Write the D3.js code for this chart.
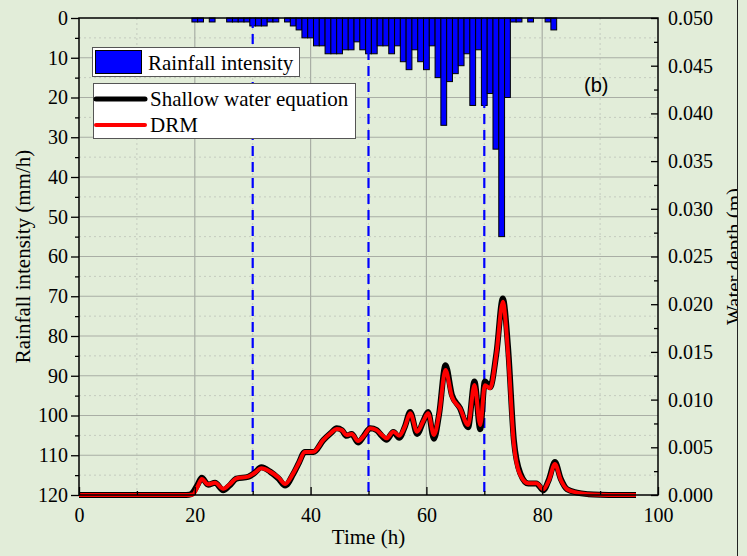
<!DOCTYPE html>
<html>
<head>
<meta charset="utf-8">
<script src="https://cdn.jsdelivr.net/npm/d3@7"></script>
<style>
  html, body { margin: 0; padding: 0; background: #e2edd9; }
  svg { display: block; }
</style>
</head>
<body>
<svg id="chart" width="747" height="556"></svg>
<script>
// Hourly rainfall intensity (mm/h), bars centred on the hour
const rainHour = [20, 21, 23, 26, 27, 28, 29, 30, 31, 32, 33, 34, 36, 37, 38, 39, 40, 41, 42, 43, 44, 45, 46, 47, 48, 49, 50, 51, 52, 53, 54, 55, 56, 57, 58, 59, 60, 61, 62, 63, 64, 65, 66, 67, 68, 69, 70, 71, 72, 73, 74, 75, 76, 78, 81, 82];
const rainIntensity = [1, 1, 1, 1, 1, 1, 1, 2, 2, 2, 1, 1, 1, 2, 3, 5, 5, 7, 7, 9, 9, 9, 8, 8, 6, 8, 9, 9, 7, 7, 9, 7, 11, 13, 8, 11, 13, 7, 15, 27, 16, 14, 12, 9, 22, 8, 22, 19, 33, 55, 20, 1, 1, 1, 1, 3];

// Simulated water depth (m)
const timeH = [0, 18, 19, 19.7, 20.5, 21.2, 22.3, 23.5, 24.9, 26, 27.2, 29.2, 30.3, 31.5, 33, 34.5, 35.6, 37, 38, 39, 40.5, 42.2, 43.5, 44.5, 45.4, 46.2, 47.1, 48.2, 49.2, 50.3, 51.4, 52.3, 53.1, 54.3, 55.3, 56.3, 57.2, 58.4, 59.5, 60.3, 61.3, 62.2, 63.3, 64.4, 65.8, 67.2, 68.3, 69.3, 70.1, 71, 72.1, 73.2, 74.1, 75.1, 76.2, 77.6, 79, 80.2, 81.2, 82.2, 83.2, 84.3, 86, 88, 90, 93, 96.2];
const sweDepth = [0, 0, 0.00002, 0.0003, 0.0011, 0.0018, 0.00108, 0.00128, 0.0005, 0.001, 0.00172, 0.0019, 0.0023, 0.0029, 0.00245, 0.0017, 0.001, 0.0022, 0.0034, 0.0045, 0.0045, 0.00575, 0.0065, 0.007, 0.0068, 0.0062, 0.0064, 0.0055, 0.0062, 0.007, 0.0068, 0.0062, 0.0058, 0.0066, 0.006, 0.0072, 0.0087, 0.0064, 0.0078, 0.0087, 0.0059, 0.0085, 0.0136, 0.0105, 0.0091, 0.0071, 0.0119, 0.0069, 0.0119, 0.0113, 0.0149, 0.0206, 0.0155, 0.0058, 0.0023, 0.0012, 0.0012, 0.0005, 0.0017, 0.00345, 0.0017, 0.0006, 0.00025, 0.00008, 0.00002, 0, 0];
const drmDepth = [0, 0, 0, 0.00005, 0.0009, 0.00168, 0.00112, 0.00129, 0.00065, 0.0011, 0.00175, 0.00192, 0.0023, 0.0028, 0.00245, 0.0018, 0.00115, 0.00227, 0.0034, 0.0045, 0.00454, 0.00577, 0.0065, 0.00692, 0.0068, 0.00629, 0.0064, 0.00566, 0.0062, 0.00699, 0.0068, 0.0063, 0.00594, 0.00664, 0.00622, 0.0072, 0.00856, 0.00664, 0.0078, 0.00856, 0.00629, 0.0085, 0.0131, 0.0103, 0.00909, 0.00734, 0.01153, 0.00734, 0.0115, 0.0112, 0.01485, 0.02026, 0.0149, 0.0054, 0.0021, 0.00122, 0.00122, 0.0006, 0.0016, 0.00325, 0.0016, 0.0006, 0.00025, 0.00008, 0.00002, 0, 0];

// Rain phases marked by dashed verticals
const markerHours = [30, 50, 70];

// Axis ticks
const timeTicks = [0, 20, 40, 60, 80, 100];
const timeMinor = [10, 30, 50, 70, 90];
const rainTicks = [0, 10, 20, 30, 40, 50, 60, 70, 80, 90, 100, 110, 120];
const rainMinor = [5, 15, 25, 35, 45, 55, 65, 75, 85, 95, 105, 115];
const depthTicks = [0, 0.005, 0.01, 0.015, 0.02, 0.025, 0.03, 0.035, 0.04, 0.045, 0.05];
const depthMinor = [0.0025, 0.0075, 0.0125, 0.0175, 0.0225, 0.0275, 0.0325, 0.0375, 0.0425, 0.0475];

const seriesNames = ["Rainfall intensity", "Shallow water equation", "DRM"];

const serif = "'Liberation Serif', 'Times New Roman', serif";
const L = 79, R = 658, T = 18, B = 495;

const svg = d3.select("#chart");
const x = d3.scaleLinear().domain([0, 100]).range([L, R]);
const yRain = d3.scaleLinear().domain([0, 120]).range([T, B]);
const yDepth = d3.scaleLinear().domain([0, 0.05]).range([B, T]);

// grid
const grid = svg.append("g");
grid.selectAll("line.hmin").data(rainMinor).join("line")
  .attr("x1", L).attr("x2", R).attr("y1", d => yRain(d)).attr("y2", d => yRain(d))
  .attr("stroke", "#c4cbbf").attr("stroke-width", 1).attr("stroke-dasharray", "2,3");
grid.selectAll("line.vmin").data(timeMinor).join("line")
  .attr("y1", T).attr("y2", B).attr("x1", d => x(d)).attr("x2", d => x(d))
  .attr("stroke", "#c4cbbf").attr("stroke-width", 1).attr("stroke-dasharray", "2,3");
grid.append("g").selectAll("line").data(rainTicks.slice(1, -1)).join("line")
  .attr("x1", L).attr("x2", R).attr("y1", d => yRain(d)).attr("y2", d => yRain(d))
  .attr("stroke", "#a9aea5").attr("stroke-width", 1.2);
grid.append("g").selectAll("line").data(timeTicks.slice(1, -1)).join("line")
  .attr("y1", T).attr("y2", B).attr("x1", d => x(d)).attr("x2", d => x(d))
  .attr("stroke", "#a9aea5").attr("stroke-width", 1.2);

// rainfall bars hanging from the top axis
svg.append("g").selectAll("rect").data(rainHour).join("rect")
  .attr("x", d => x(d - 0.5))
  .attr("width", d => x(d + 0.5) - x(d - 0.5))
  .attr("y", yRain(0))
  .attr("height", (d, i) => yRain(rainIntensity[i]) - yRain(0))
  .attr("fill", "#0000ff").attr("stroke", "#000").attr("stroke-width", 1);

// dashed phase markers
svg.append("g").selectAll("line").data(markerHours).join("line")
  .attr("x1", d => x(d)).attr("x2", d => x(d)).attr("y1", T).attr("y2", B)
  .attr("stroke", "#0000ff").attr("stroke-width", 2.2).attr("stroke-dasharray", "10,6");

// water depth curves
const line = series => d3.line()
  .x((d, i) => x(timeH[i]))
  .y(d => yDepth(d))
  .curve(d3.curveMonotoneX)(series);
svg.append("path").attr("d", line(sweDepth))
  .attr("fill", "none").attr("stroke", "#000").attr("stroke-width", 6).attr("stroke-linejoin", "round");
svg.append("path").attr("d", line(drmDepth))
  .attr("fill", "none").attr("stroke", "#ff0000").attr("stroke-width", 4).attr("stroke-linejoin", "round");

// frame
svg.append("rect").attr("x", L).attr("y", T).attr("width", R - L).attr("height", B - T)
  .attr("fill", "none").attr("stroke", "#000").attr("stroke-width", 1.5);

function styleAxis(g) {
  g.select(".domain").remove();
  g.selectAll("line").attr("stroke", "#000").attr("stroke-width", 1.3);
  g.selectAll("text").attr("font-family", serif).attr("font-size", 20).attr("fill", "#000");
}

// left axis (outward ticks)
svg.append("g").attr("transform", `translate(${L},0)`)
  .call(d3.axisLeft(yRain).tickValues(rainTicks).tickFormat(d3.format("d")).tickSize(8).tickPadding(3))
  .call(styleAxis);
svg.append("g").attr("transform", `translate(${L},0)`)
  .call(d3.axisLeft(yRain).tickValues(rainMinor).tickFormat("").tickSize(4))
  .call(styleAxis);

// bottom axis (inward ticks)
svg.append("g").attr("transform", `translate(0,${B})`)
  .call(d3.axisBottom(x).tickValues(timeTicks).tickFormat(d3.format("d")).tickSizeInner(-8).tickSizeOuter(0).tickPadding(13))
  .call(styleAxis);
svg.append("g").attr("transform", `translate(0,${B})`)
  .call(d3.axisBottom(x).tickValues(timeMinor).tickFormat("").tickSizeInner(-4).tickSizeOuter(0))
  .call(styleAxis);

// right axis (inward ticks)
svg.append("g").attr("transform", `translate(${R},0)`)
  .call(d3.axisRight(yDepth).tickValues(depthTicks).tickFormat(d3.format(".3f")).tickSizeInner(-7).tickSizeOuter(0).tickPadding(10))
  .call(styleAxis);
svg.append("g").attr("transform", `translate(${R},0)`)
  .call(d3.axisRight(yDepth).tickValues(depthMinor).tickFormat("").tickSizeInner(-4).tickSizeOuter(0))
  .call(styleAxis);

// axis titles
svg.append("text").attr("transform", `translate(30,${(T + B) / 2}) rotate(-90)`)
  .attr("text-anchor", "middle").attr("font-family", serif).attr("font-size", 21)
  .text("Rainfall intensity (mm/h)");
svg.append("text").attr("x", (L + R) / 2).attr("y", 544)
  .attr("text-anchor", "middle").attr("font-family", serif).attr("font-size", 21)
  .text("Time (h)");

// right title runs past the figure edge and is cut there
svg.append("clipPath").attr("id", "edge").append("rect")
  .attr("x", 0).attr("y", 0).attr("width", 737).attr("height", 556);
svg.append("g").attr("clip-path", "url(#edge)")
  .append("text")
  .attr("transform", `translate(741,${(T + B) / 2}) rotate(-90)`)
  .attr("text-anchor", "middle").attr("font-family", serif).attr("font-size", 21)
  .text("Water depth (m)");
svg.append("line").attr("x1", 737.5).attr("x2", 737.5).attr("y1", 0).attr("y2", 556)
  .attr("stroke", "#222").attr("stroke-width", 1);

// panel label
svg.append("text").attr("x", 584).attr("y", 92)
  .attr("font-family", "'Liberation Sans', Arial, sans-serif").attr("font-size", 20)
  .text("(b)");

// legend
const leg1 = svg.append("g");
leg1.append("rect").attr("x", 92.5).attr("y", 47.5).attr("width", 207).attr("height", 29)
  .attr("fill", "#fff").attr("stroke", "#555").attr("stroke-width", 1);
leg1.append("rect").attr("x", 95.5).attr("y", 50.5).attr("width", 46).attr("height", 23)
  .attr("fill", "#0000ff").attr("stroke", "#000").attr("stroke-width", 1);
leg1.append("text").attr("x", 148).attr("y", 70).attr("font-family", serif).attr("font-size", 21)
  .text(seriesNames[0]);

const leg2 = svg.append("g");
leg2.append("rect").attr("x", 93.5).attr("y", 83.5).attr("width", 262).attr("height", 55)
  .attr("fill", "#fff").attr("stroke", "#555").attr("stroke-width", 1);
leg2.append("line").attr("x1", 96).attr("x2", 145).attr("y1", 99).attr("y2", 99)
  .attr("stroke", "#000").attr("stroke-width", 5).attr("stroke-linecap", "round");
leg2.append("line").attr("x1", 96).attr("x2", 145).attr("y1", 125).attr("y2", 125)
  .attr("stroke", "#ff0000").attr("stroke-width", 4).attr("stroke-linecap", "round");
leg2.append("text").attr("x", 150).attr("y", 106).attr("font-family", serif).attr("font-size", 21)
  .text(seriesNames[1]);
leg2.append("text").attr("x", 150).attr("y", 132).attr("font-family", serif).attr("font-size", 21)
  .text(seriesNames[2]);
</script>
</body>
</html>
